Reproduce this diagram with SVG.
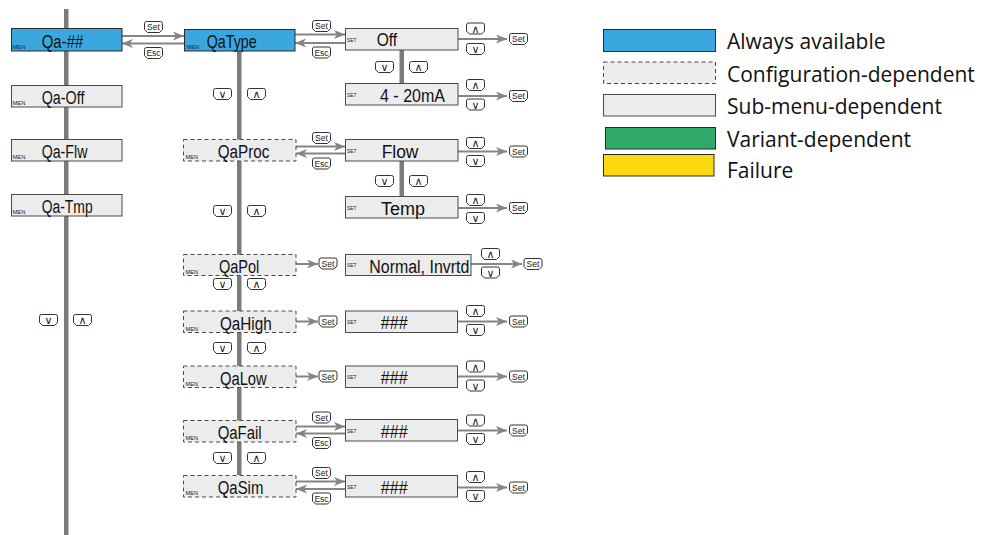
<svg xmlns="http://www.w3.org/2000/svg" xmlns:xlink="http://www.w3.org/1999/xlink" width="982" height="535" viewBox="0 0 982 535">
<style>
.bg{fill:#ffffff}
.bar{fill:#7b7b7b}
.blue{fill:#3aa8df;stroke:#2b2b2b;stroke-width:1}
.grey{fill:#ececec;stroke:#4a4a4a;stroke-width:1}
.dash{fill:#ececec;stroke:#4a4a4a;stroke-width:1;stroke-dasharray:4 3}
.green{fill:#31a968;stroke:#2b2b2b;stroke-width:1}
.yellow{fill:#ffd90f;stroke:#2b2b2b;stroke-width:1}
.lbl{font-family:"Liberation Sans",Arial,sans-serif;font-size:18px;fill:#111}
.tiny{font-family:"Liberation Sans",Arial,sans-serif;font-size:6px;fill:#222}
.ktxt{font-family:"Liberation Sans",Arial,sans-serif;font-size:8.5px;fill:#222;text-anchor:middle}
.sym{font-family:"DejaVu Sans",sans-serif;font-size:11px;fill:#222;text-anchor:middle}
.leg{font-family:"Open Sans","Liberation Sans",sans-serif;font-size:21px;fill:#111}
.ln{stroke:#858585;stroke-width:2;fill:none}
.keyshape{fill:#ffffff;stroke:#333;stroke-width:1}
</style>
<defs>
<marker id="ah" markerUnits="userSpaceOnUse" markerWidth="12" markerHeight="10" refX="11" refY="4.5" orient="auto">
<path d="M0,0 L11,4.5 L0,9 L3,4.5 Z" fill="#858585"/>
</marker>
<path id="key" class="keyshape" d="M0.5,2.5 Q0.5,0.5 2.5,0.5 H16.5 Q18.5,0.5 18.5,2.5 V8.5 L15.5,11.5 H3.5 L0.5,8.5 Z"/>
</defs>
<rect class="bg" x="0" y="0" width="982" height="535"/>

<g id="connectors">
<rect class="bar" x="64" y="9" width="4.5" height="526"/>
<rect class="bar" x="237" y="51" width="4.5" height="424"/>
<rect class="bar" x="399.5" y="50" width="4.5" height="33"/>
<rect class="bar" x="399.5" y="161" width="4.5" height="35"/>
<line class="ln" x1="122" y1="36" x2="184" y2="36" marker-end="url(#ah)"/>
<line class="ln" x1="184" y1="43.5" x2="122" y2="43.5" marker-end="url(#ah)"/>
<line class="ln" x1="295" y1="34.5" x2="345" y2="34.5" marker-end="url(#ah)"/>
<line class="ln" x1="345" y1="43" x2="295" y2="43" marker-end="url(#ah)"/>
<line class="ln" x1="296" y1="146.5" x2="345" y2="146.5" marker-end="url(#ah)"/>
<line class="ln" x1="345" y1="153.5" x2="296" y2="153.5" marker-end="url(#ah)"/>
<line class="ln" x1="296" y1="426.5" x2="345" y2="426.5" marker-end="url(#ah)"/>
<line class="ln" x1="345" y1="433.5" x2="296" y2="433.5" marker-end="url(#ah)"/>
<line class="ln" x1="296" y1="481.5" x2="345" y2="481.5" marker-end="url(#ah)"/>
<line class="ln" x1="345" y1="489" x2="296" y2="489" marker-end="url(#ah)"/>
<line class="ln" x1="296" y1="264" x2="318" y2="264" marker-end="url(#ah)"/>
<line class="ln" x1="296" y1="321.5" x2="318" y2="321.5" marker-end="url(#ah)"/>
<line class="ln" x1="296" y1="376.5" x2="318" y2="376.5" marker-end="url(#ah)"/>
<line class="ln" x1="458" y1="39" x2="507" y2="39" marker-end="url(#ah)"/>
<line class="ln" x1="458" y1="96" x2="507" y2="96" marker-end="url(#ah)"/>
<line class="ln" x1="458" y1="151.5" x2="507" y2="151.5" marker-end="url(#ah)"/>
<line class="ln" x1="458" y1="208" x2="507" y2="208" marker-end="url(#ah)"/>
<line class="ln" x1="471" y1="264" x2="522" y2="264" marker-end="url(#ah)"/>
<line class="ln" x1="458" y1="321.5" x2="507" y2="321.5" marker-end="url(#ah)"/>
<line class="ln" x1="458" y1="376.5" x2="507" y2="376.5" marker-end="url(#ah)"/>
<line class="ln" x1="458" y1="430.5" x2="507" y2="430.5" marker-end="url(#ah)"/>
<line class="ln" x1="458" y1="487.5" x2="507" y2="487.5" marker-end="url(#ah)"/>
</g>

<g id="keys">
<use href="#key" x="144" y="21"/><text class="ktxt" x="153.5" y="30">Set</text>
<use href="#key" x="144" y="47"/><text class="ktxt" x="153.5" y="56">Esc</text>
<use href="#key" x="312" y="20"/><text class="ktxt" x="321.5" y="29">Set</text>
<use href="#key" x="312" y="46.5"/><text class="ktxt" x="321.5" y="55.5">Esc</text>
<use href="#key" x="312" y="132"/><text class="ktxt" x="321.5" y="141">Set</text>
<use href="#key" x="312" y="157.5"/><text class="ktxt" x="321.5" y="166.5">Esc</text>
<use href="#key" x="312" y="411.5"/><text class="ktxt" x="321.5" y="420.5">Set</text>
<use href="#key" x="312" y="437"/><text class="ktxt" x="321.5" y="446">Esc</text>
<use href="#key" x="312" y="467"/><text class="ktxt" x="321.5" y="476">Set</text>
<use href="#key" x="312" y="492.5"/><text class="ktxt" x="321.5" y="501.5">Esc</text>
<use href="#key" x="318.5" y="257.5"/><text class="ktxt" x="328" y="266.5">Set</text>
<use href="#key" x="318.5" y="315.5"/><text class="ktxt" x="328" y="324.5">Set</text>
<use href="#key" x="318.5" y="370.5"/><text class="ktxt" x="328" y="379.5">Set</text>
<use href="#key" x="509" y="33"/><text class="ktxt" x="518.5" y="42">Set</text>
<use href="#key" x="509" y="90"/><text class="ktxt" x="518.5" y="99">Set</text>
<use href="#key" x="509" y="145.5"/><text class="ktxt" x="518.5" y="154.5">Set</text>
<use href="#key" x="509" y="202"/><text class="ktxt" x="518.5" y="211">Set</text>
<use href="#key" x="523.5" y="258"/><text class="ktxt" x="533" y="267">Set</text>
<use href="#key" x="509" y="315.5"/><text class="ktxt" x="518.5" y="324.5">Set</text>
<use href="#key" x="509" y="370.5"/><text class="ktxt" x="518.5" y="379.5">Set</text>
<use href="#key" x="509" y="424.5"/><text class="ktxt" x="518.5" y="433.5">Set</text>
<use href="#key" x="509" y="481.5"/><text class="ktxt" x="518.5" y="490.5">Set</text>
<use href="#key" x="39" y="314"/><text class="sym" x="48.5" y="324">∨</text>
<use href="#key" x="73" y="314"/><text class="sym" x="82.5" y="324">∧</text>
<use href="#key" x="213" y="88"/><text class="sym" x="222.5" y="98">∨</text>
<use href="#key" x="247" y="88"/><text class="sym" x="256.5" y="98">∧</text>
<use href="#key" x="375" y="61"/><text class="sym" x="384.5" y="71">∨</text>
<use href="#key" x="409" y="61"/><text class="sym" x="418.5" y="71">∧</text>
<use href="#key" x="213" y="205"/><text class="sym" x="222.5" y="215">∨</text>
<use href="#key" x="247" y="205"/><text class="sym" x="256.5" y="215">∧</text>
<use href="#key" x="375" y="175"/><text class="sym" x="384.5" y="185">∨</text>
<use href="#key" x="409" y="175"/><text class="sym" x="418.5" y="185">∧</text>
<use href="#key" x="213" y="278"/><text class="sym" x="222.5" y="288">∨</text>
<use href="#key" x="247" y="278"/><text class="sym" x="256.5" y="288">∧</text>
<use href="#key" x="213" y="342"/><text class="sym" x="222.5" y="352">∨</text>
<use href="#key" x="247" y="342"/><text class="sym" x="256.5" y="352">∧</text>
<use href="#key" x="213" y="452"/><text class="sym" x="222.5" y="462">∨</text>
<use href="#key" x="247" y="452"/><text class="sym" x="256.5" y="462">∧</text>
<use href="#key" x="466" y="22.5"/><text class="sym" x="475.5" y="32.5">∧</text>
<use href="#key" x="466" y="43"/><text class="sym" x="475.5" y="53">∨</text>
<use href="#key" x="466" y="79"/><text class="sym" x="475.5" y="89">∧</text>
<use href="#key" x="466" y="98.5"/><text class="sym" x="475.5" y="108.5">∨</text>
<use href="#key" x="466" y="137"/><text class="sym" x="475.5" y="147">∧</text>
<use href="#key" x="466" y="155"/><text class="sym" x="475.5" y="165">∨</text>
<use href="#key" x="466" y="194"/><text class="sym" x="475.5" y="204">∧</text>
<use href="#key" x="466" y="212"/><text class="sym" x="475.5" y="222">∨</text>
<use href="#key" x="481" y="248"/><text class="sym" x="490.5" y="258">∧</text>
<use href="#key" x="481" y="266.5"/><text class="sym" x="490.5" y="276.5">∨</text>
<use href="#key" x="466" y="305"/><text class="sym" x="475.5" y="315">∧</text>
<use href="#key" x="466" y="324"/><text class="sym" x="475.5" y="334">∨</text>
<use href="#key" x="466" y="360.5"/><text class="sym" x="475.5" y="370.5">∧</text>
<use href="#key" x="466" y="379.5"/><text class="sym" x="475.5" y="389.5">∨</text>
<use href="#key" x="466" y="414.5"/><text class="sym" x="475.5" y="424.5">∧</text>
<use href="#key" x="466" y="433"/><text class="sym" x="475.5" y="443">∨</text>
<use href="#key" x="466" y="471"/><text class="sym" x="475.5" y="481">∧</text>
<use href="#key" x="466" y="490"/><text class="sym" x="475.5" y="500">∨</text>
</g>

<g id="qa-hash"><rect class="blue" x="11.5" y="28.5" width="110.5" height="22.5"/><text class="tiny" x="12.5" y="48.5" textLength="13" lengthAdjust="spacingAndGlyphs">MEN</text><text class="lbl" x="41.7" y="47.5" textLength="41.6" lengthAdjust="spacingAndGlyphs">Qa-##</text></g>
<g id="qa-off"><rect class="grey" x="11.5" y="85.5" width="110.5" height="21.5"/><text class="tiny" x="12.5" y="105" textLength="13" lengthAdjust="spacingAndGlyphs">MEN</text><text class="lbl" x="41.7" y="104" textLength="42.7" lengthAdjust="spacingAndGlyphs">Qa-Off</text></g>
<g id="qa-flw"><rect class="grey" x="11.5" y="139.5" width="110.5" height="21.5"/><text class="tiny" x="12.5" y="159" textLength="13" lengthAdjust="spacingAndGlyphs">MEN</text><text class="lbl" x="41.7" y="158" textLength="45.7" lengthAdjust="spacingAndGlyphs">Qa-Flw</text></g>
<g id="qa-tmp"><rect class="grey" x="11.5" y="194.5" width="110.5" height="21.5"/><text class="tiny" x="12.5" y="214" textLength="13" lengthAdjust="spacingAndGlyphs">MEN</text><text class="lbl" x="41.7" y="213" textLength="51" lengthAdjust="spacingAndGlyphs">Qa-Tmp</text></g>

<g id="qatype"><rect class="blue" x="184.5" y="29.5" width="110.5" height="21.5"/><text class="tiny" x="186.5" y="49" textLength="12.5" lengthAdjust="spacingAndGlyphs">MEN</text><text class="lbl" x="206.7" y="48" textLength="50" lengthAdjust="spacingAndGlyphs">QaType</text></g>
<g id="qaproc"><rect class="dash" x="183.5" y="139.5" width="112.5" height="21.5"/><text class="tiny" x="185.5" y="159" textLength="12.5" lengthAdjust="spacingAndGlyphs">MEN</text><text class="lbl" x="217.7" y="158" textLength="51.7" lengthAdjust="spacingAndGlyphs">QaProc</text></g>
<g id="qapol"><rect class="dash" x="183.5" y="254.5" width="112.5" height="21"/><text class="tiny" x="185.5" y="273.5" textLength="12.5" lengthAdjust="spacingAndGlyphs">MEN</text><text class="lbl" x="219" y="272.5" textLength="40.3" lengthAdjust="spacingAndGlyphs">QaPol</text></g>
<g id="qahigh"><rect class="dash" x="183.5" y="311" width="112.5" height="21.5"/><text class="tiny" x="185.5" y="330.5" textLength="12.5" lengthAdjust="spacingAndGlyphs">MEN</text><text class="lbl" x="220" y="329.5" textLength="51.7" lengthAdjust="spacingAndGlyphs">QaHigh</text></g>
<g id="qalow"><rect class="dash" x="183.5" y="366" width="112.5" height="21.5"/><text class="tiny" x="185.5" y="385.5" textLength="12.5" lengthAdjust="spacingAndGlyphs">MEN</text><text class="lbl" x="220" y="384.5" textLength="46.7" lengthAdjust="spacingAndGlyphs">QaLow</text></g>
<g id="qafail"><rect class="dash" x="183.5" y="420.5" width="112.5" height="21.5"/><text class="tiny" x="185.5" y="440" textLength="12.5" lengthAdjust="spacingAndGlyphs">MEN</text><text class="lbl" x="217.7" y="439" textLength="44" lengthAdjust="spacingAndGlyphs">QaFail</text></g>
<g id="qasim"><rect class="dash" x="183.5" y="475.5" width="112.5" height="21.5"/><text class="tiny" x="185.5" y="495" textLength="12.5" lengthAdjust="spacingAndGlyphs">MEN</text><text class="lbl" x="217.7" y="494" textLength="45.7" lengthAdjust="spacingAndGlyphs">QaSim</text></g>

<g id="off"><rect class="grey" x="345.5" y="28.5" width="112.5" height="21.5"/><text class="tiny" x="347" y="41.5" textLength="9.3" lengthAdjust="spacingAndGlyphs">SET</text><text class="lbl" x="376.7" y="46" textLength="20.5" lengthAdjust="spacingAndGlyphs">Off</text></g>
<g id="ma420"><rect class="grey" x="345.5" y="83.5" width="112.5" height="21.5"/><text class="tiny" x="347" y="96.5" textLength="9.3" lengthAdjust="spacingAndGlyphs">SET</text><text class="lbl" x="380" y="101.5" textLength="65" lengthAdjust="spacingAndGlyphs">4 - 20mA</text></g>
<g id="flow"><rect class="grey" x="345.5" y="139.5" width="112.5" height="21.5"/><text class="tiny" x="347" y="152.5" textLength="9.3" lengthAdjust="spacingAndGlyphs">SET</text><text class="lbl" x="381.7" y="157.5" textLength="36.7" lengthAdjust="spacingAndGlyphs">Flow</text></g>
<g id="temp"><rect class="grey" x="345.5" y="196.5" width="112.5" height="21.5"/><text class="tiny" x="347" y="209.5" textLength="9.3" lengthAdjust="spacingAndGlyphs">SET</text><text class="lbl" x="381" y="214.5" textLength="44" lengthAdjust="spacingAndGlyphs">Temp</text></g>
<g id="normal"><rect class="grey" x="345.5" y="254.5" width="125.5" height="21"/><text class="tiny" x="347" y="267" textLength="9.3" lengthAdjust="spacingAndGlyphs">SET</text><text class="lbl" x="369.3" y="272.5" textLength="100" lengthAdjust="spacingAndGlyphs">Normal, Invrtd</text></g>
<g id="high-val"><rect class="grey" x="345.5" y="311" width="112" height="21.5"/><text class="tiny" x="347" y="324" textLength="9.3" lengthAdjust="spacingAndGlyphs">SET</text><text class="lbl" x="380.7" y="329" textLength="27" lengthAdjust="spacingAndGlyphs">###</text></g>
<g id="low-val"><rect class="grey" x="345.5" y="366" width="112" height="21.5"/><text class="tiny" x="347" y="379" textLength="9.3" lengthAdjust="spacingAndGlyphs">SET</text><text class="lbl" x="380.7" y="384" textLength="27" lengthAdjust="spacingAndGlyphs">###</text></g>
<g id="fail-val"><rect class="grey" x="345.5" y="419.5" width="112" height="21.5"/><text class="tiny" x="347" y="432.5" textLength="9.3" lengthAdjust="spacingAndGlyphs">SET</text><text class="lbl" x="380.7" y="437.5" textLength="27" lengthAdjust="spacingAndGlyphs">###</text></g>
<g id="sim-val"><rect class="grey" x="345.5" y="475.5" width="112" height="21.5"/><text class="tiny" x="347" y="488.5" textLength="9.3" lengthAdjust="spacingAndGlyphs">SET</text><text class="lbl" x="380.7" y="493.5" textLength="27" lengthAdjust="spacingAndGlyphs">###</text></g>

<g id="legend">
<rect class="blue" x="603.5" y="29.5" width="112" height="22"/>
<text class="leg" x="727" y="48.5">Always available</text>
<rect class="dash" x="603.5" y="62" width="112" height="21.5"/>
<text class="leg" x="727" y="81.5">Configuration-dependent</text>
<rect class="grey" x="603.5" y="94.5" width="112" height="21.5"/>
<text class="leg" x="727" y="113.5">Sub-menu-dependent</text>
<rect class="green" x="605.5" y="127.5" width="110" height="21.5"/>
<text class="leg" x="727" y="146.5">Variant-dependent</text>
<rect class="yellow" x="603.5" y="154.5" width="110.5" height="21.5"/>
<text class="leg" x="727" y="177.5">Failure</text>
</g>
</svg>
